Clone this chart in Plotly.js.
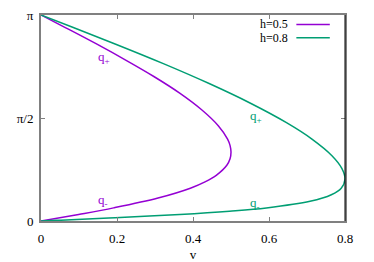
<!DOCTYPE html>
<html>
<head>
<meta charset="utf-8">
<script src="https://cdn.plot.ly/plotly-3.0.1.min.js"></script>
<style>html,body{margin:0;padding:0;background:#fff;}#plot{width:374px;height:262px;}</style>
</head>
<body>
<div id="plot"></div>
<script>
// h = 0.5 curve (q along the curve, v reached)
const q_h05 = [0, 0.1, 0.2, 0.35, 0.5, 0.6, 0.7, 0.85, 0.95, 1.05, 1.15, 1.25, 1.45, 1.7, 1.95, 2.2, 2.45, 2.7, 2.95, 3.1416];
const v_h05 = [0, 0.099, 0.191, 0.308, 0.393, 0.433, 0.462, 0.489, 0.4975, 0.500, 0.4976, 0.491, 0.467, 0.422, 0.365, 0.298, 0.224, 0.146, 0.064, 0];
// h = 0.8 curve
const q_h08 = [0, 0.01, 0.02, 0.05, 0.1, 0.15, 0.2, 0.3, 0.4, 0.5, 0.64, 0.8, 1.0, 1.25, 1.5, 1.8, 2.1, 2.4, 2.7, 2.95, 3.1416];
const v_h08 = [0, 0.040, 0.080, 0.195, 0.365, 0.496, 0.593, 0.708, 0.764, 0.790, 0.800, 0.792, 0.765, 0.713, 0.646, 0.550, 0.441, 0.322, 0.195, 0.085, 0];
const seriesNames = ['h=0.5', 'h=0.8'];
const seriesColors = ['#9400d3', '#009e73'];
const yTickVals = [0, Math.PI / 2, Math.PI];
const yTickText = ['0', 'π/2', 'π'];
const xTickVals = [0, 0.2, 0.4, 0.6, 0.8];
const xTickText = ['0', '0.2', '0.4', '0.6', '0.8'];

const font = {family: 'Liberation Serif', size: 13, color: '#000'};
const legendFont = {family: 'Liberation Serif', size: 12, color: '#000'};

const traces = [
  {x: v_h05, y: q_h05, mode: 'lines', line: {color: seriesColors[0], width: 1.5, shape: 'spline'}, name: seriesNames[0], showlegend: false, hoverinfo: 'skip'},
  {x: v_h08, y: q_h08, mode: 'lines', line: {color: seriesColors[1], width: 1.5, shape: 'spline'}, name: seriesNames[1], showlegend: false, hoverinfo: 'skip'}
];

const axisCommon = {
  showgrid: false, zeroline: false, showline: true, linecolor: '#808080', linewidth: 2,
  mirror: 'ticks', ticks: 'inside', ticklen: 4, tickcolor: '#808080', tickwidth: 1,
  tickfont: font
};

const layout = {
  width: 374, height: 262,
  margin: {l: 41, r: 29, t: 15, b: 41},
  paper_bgcolor: '#fff', plot_bgcolor: '#fff',
  font: font,
  showlegend: false,
  xaxis: Object.assign({}, axisCommon, {range: [0, 0.8], tickvals: xTickVals, ticktext: xTickText,
    ticklabelstandoff: 4, title: {text: 'v', font: font, standoff: 8}}),
  yaxis: Object.assign({}, axisCommon, {range: [0, Math.PI], tickvals: yTickVals, ticktext: yTickText,
    ticklabelstandoff: 3}),
  shapes: [
    {type: 'line', xref: 'paper', yref: 'paper', x0: 1, x1: 1, y0: 0, y1: 1, line: {color: '#000', width: 1}},
    {type: 'line', xref: 'paper', yref: 'paper', x0: 0.84, x1: 0.95, y0: 0.954, y1: 0.954, line: {color: seriesColors[0], width: 1.5}},
    {type: 'line', xref: 'paper', yref: 'paper', x0: 0.84, x1: 0.95, y0: 0.889, y1: 0.889, line: {color: seriesColors[1], width: 1.5}}
  ],
  annotations: [
    {xref: 'paper', yref: 'paper', x: 0.817, y: 0.954, xanchor: 'right', yanchor: 'middle', text: seriesNames[0], showarrow: false, font: legendFont, borderpad: 0},
    {xref: 'paper', yref: 'paper', x: 0.817, y: 0.889, xanchor: 'right', yanchor: 'middle', text: seriesNames[1], showarrow: false, font: legendFont, borderpad: 0},
    {x: 0.166, y: 2.49, text: 'q<sub>+</sub>', showarrow: false, font: Object.assign({}, font, {color: seriesColors[0]})},
    {x: 0.164, y: 0.31, text: 'q<sub>-</sub>', showarrow: false, font: Object.assign({}, font, {color: seriesColors[0]})},
    {x: 0.566, y: 1.6, text: 'q<sub>+</sub>', showarrow: false, font: Object.assign({}, font, {color: seriesColors[1]})},
    {x: 0.563, y: 0.27, text: 'q<sub>-</sub>', showarrow: false, font: Object.assign({}, font, {color: seriesColors[1]})}
  ]
};

Plotly.newPlot('plot', traces, layout, {staticPlot: true, displayModeBar: false});
</script>
</body>
</html>
